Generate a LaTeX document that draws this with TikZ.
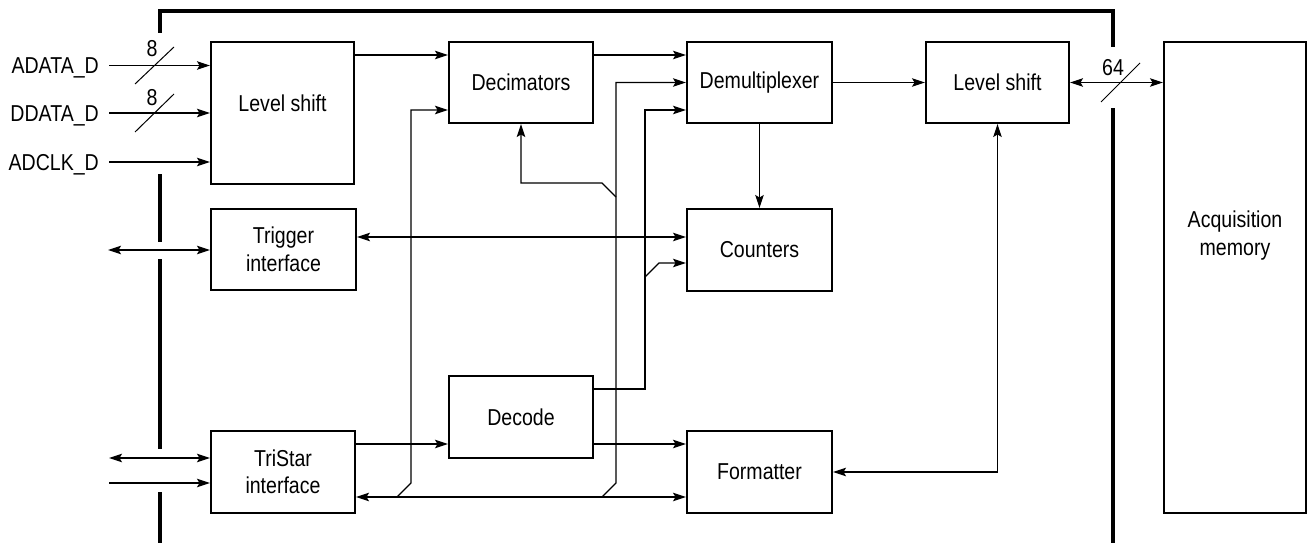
\documentclass[tikz,border=0pt]{standalone}
\usepackage{fontspec}
\setmainfont[FakeStretch=0.85]{Liberation Sans}
\usetikzlibrary{arrows.meta}
\newcommand\dgfont{\fontsize{23}{27.5}\selectfont}
\begin{document}
\begin{tikzpicture}[x=1pt,y=-1pt,
  blk/.style={draw, line width=2pt, rectangle, inner sep=0pt, align=center, font=\dgfont},
  con/.style={line width=1.1pt},
  arr/.style={con, -{Stealth[length=13pt,width=8.5pt,inset=2.5pt]}},
  biarr/.style={con, {Stealth[length=13pt,width=8.5pt,inset=2.5pt]}-{Stealth[length=13pt,width=8.5pt,inset=2.5pt]}},
  wall/.style={line width=3.3pt},
  lbl/.style={font=\dgfont, inner sep=0pt},
  slash/.style={line width=1pt}]
\useasboundingbox (0,0) rectangle (1307,543);

% blocks
\node[blk, minimum width=143pt, minimum height=142pt,
      label={[lbl,yshift=10pt]center:Level shift}] (ls1) at (282.5,113) {};
\node[blk, minimum width=144pt, minimum height=81pt] (dec) at (521,82.5) {Decimators};
\node[blk, minimum width=145pt, minimum height=81pt] (demux) at (759.5,82.5) {Demultiplexer};
\node[blk, minimum width=143pt, minimum height=81pt] (ls2) at (997.5,82.5) {Level shift};
\node[blk, minimum width=142pt, minimum height=471pt,
      label={[lbl,align=center,yshift=42pt]center:Acquisition\\memory}] (acq) at (1235,277.5) {};
\node[blk, minimum width=145pt, minimum height=81pt] (trig) at (283.5,249.5) {Trigger\\interface};
\node[blk, minimum width=145pt, minimum height=82pt] (cnt) at (759.5,250) {Counters};
\node[blk, minimum width=144pt, minimum height=82pt] (decode) at (521,417) {Decode};
\node[blk, minimum width=144pt, minimum height=82pt] (tri) at (283,472) {TriStar\\interface};
\node[blk, minimum width=145pt, minimum height=82pt] (fmt) at (759.5,472) {Formatter};

% board outline
\draw[wall] (160,33) -- (160,11) -- (1113,11) -- (1113,47);
\draw[wall] (160,174) -- (160,242);
\draw[wall] (160,259) -- (160,449);
\draw[wall] (160,492) -- (160,543);
\draw[wall] (1113,108) -- (1113,543);

% inputs
\node[lbl, anchor=base east] (lA) at (99,74) {ADATA\_D};
\node[lbl, anchor=base east] (lD) at (99,121.5) {DDATA\_D};
\node[lbl, anchor=base east] (lC) at (99,170.5) {ADCLK\_D};
\coordinate (inA) at (109,65.5);
\coordinate (inD) at (109,113);
\coordinate (inC) at (109,162);
\draw[arr] (inA) -- (inA -| ls1.west);
\draw[arr] (inD) -- (inD -| ls1.west);
\draw[arr] (inC) -- (inC -| ls1.west);
\draw[slash] (135,84) -- (174,47);
\draw[slash] (135,132) -- (174,94);
\node[lbl, anchor=base] (w8a) at (152,57) {8};
\node[lbl, anchor=base] (w8b) at (152,105) {8};

% main path
\draw[arr] (ls1.east |- 0,55) -- (dec.west |- 0,55);
\draw[arr] (dec.east |- 0,55) -- (demux.west |- 0,55);
\draw[arr] (demux.east) -- (ls2.west);
\draw[biarr] (ls2.east) -- (acq.west |- ls2.east);
\draw[slash] (1101,102) -- (1140,63);
\node[lbl, anchor=base] (w64) at (1113,75) {64};
\draw[arr] (demux.south) -- (cnt.north);

% trigger
\coordinate (tl) at (108,250);
\draw[biarr] (tl) -- (tl -| trig.west);
\draw[biarr] (trig.east |- 0,237) -- (cnt.west |- 0,237);

% tristar
\coordinate (t1) at (109,458);
\coordinate (t2) at (109,483);
\draw[biarr] (t1) -- (t1 -| tri.west);
\draw[arr] (t2) -- (t2 -| tri.west);
\draw[arr] (tri.east |- 0,444) -- (decode.west |- 0,444);
\draw[arr] (decode.east |- 0,444) -- (fmt.west |- 0,444);

% bus
\draw[biarr] (tri.east |- 0,497) -- (fmt.west |- 0,497);
\coordinate (b1) at (397,497);
\coordinate (b2) at (602,497);
\draw[arr] (b1) -- (411,483) -- (411,110) -- (dec.west |- 0,110);
\draw[arr] (b2) -- (616,483) -- (616,82.5) -- (demux.west |- 0,82.5);
\coordinate (b3) at (616,197);
\draw[arr] (b3) -- (602,183) -- (dec.south |- 0,183) -- (dec.south);

% decode outputs
\draw[arr] (decode.east |- 0,389) -- (645,389) -- (645,110) -- (demux.west |- 0,110);
\coordinate (b4) at (645,277);
\draw[arr] (b4) -- (659,263) -- (cnt.west |- 0,263);

% level shift <-> formatter
\draw[biarr] (ls2.south) -- (ls2.south |- fmt.east) -- (fmt.east);
\end{tikzpicture}
\end{document}
